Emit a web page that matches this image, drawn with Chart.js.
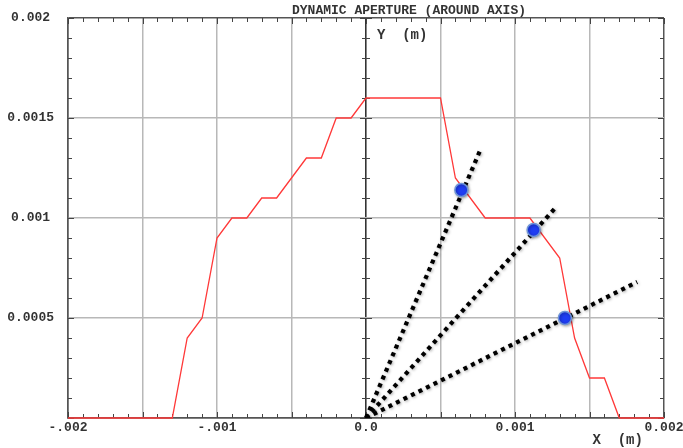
<!DOCTYPE html>
<html>
<head>
<meta charset="utf-8">
<script src="https://cdn.jsdelivr.net/npm/chart.js@4.4.1/dist/chart.umd.min.js"></script>
<style>
  html, body { margin: 0; padding: 0; background: #fff; }
  #wrap { width: 683px; height: 448px; }
</style>
</head>
<body>
<div id="wrap"><canvas id="myChart" width="683" height="448"></canvas></div>
<script>
// aperture boundary
let apertureX = [-0.002, -0.0013, -0.0012, -0.0011, -0.001, -0.0009, -0.0008, -0.0007, -0.0006, -0.0004, -0.0003, -0.0002, -0.0001, 0,
                 0.0005, 0.0006, 0.0008, 0.0011, 0.0013, 0.0014, 0.0015, 0.0016, 0.0017, 0.002];
let apertureY = [0, 0, 0.0004, 0.0005, 0.0009, 0.001, 0.001, 0.0011, 0.0011, 0.0013, 0.0013, 0.0015, 0.0015, 0.0016,
                 0.0016, 0.0012, 0.001, 0.001, 0.0008, 0.0004, 0.0002, 0.0002, 0, 0];

// dotted rays from the origin
let rayEndX = [0.00077, 0.00127, 0.00182];
let rayEndY = [0.001345, 0.00105, 0.00068];

// crossing points
let dotX = [0.00064, 0.001125, 0.001335];
let dotY = [0.00114, 0.00094, 0.0005];

// tick labels
let xTickValues = [-0.002, -0.001, 0, 0.001, 0.002];
let xTickLabels = ["-.002", "-.001", "0.0", "0.001", "0.002"];
let yTickValues = [0.0005, 0.001, 0.0015, 0.002];
let yTickLabels = ["0.0005", "0.001", "0.0015", "0.002"];

const MONO = "'Liberation Mono', 'DejaVu Sans Mono', monospace";

function near(a, b) { return Math.abs(a - b) < 1e-9; }
function isMajor(v) { return Math.abs(v / 0.0005 - Math.round(v / 0.0005)) < 1e-6; }
function findLabel(v, vals, labels) {
    for (let i = 0; i < vals.length; i++) {
        if (near(v, vals[i])) return labels[i];
    }
    return "";
}

function toPoints(xs, ys) {
    let pts = [];
    for (let i = 0; i < xs.length; i++) pts.push({x: xs[i], y: ys[i]});
    return pts;
}

let datasets = [];
datasets.push({
    data: toPoints(dotX, dotY),
    pointRadius: 6.5,
    pointBackgroundColor: "#1f3df2",
    pointBorderColor: "#6f95d8",
    pointBorderWidth: 1.5,
    showLine: false,
    order: 0,
    shadow: true
});
for (let i = 0; i < rayEndX.length; i++) {
    datasets.push({
        data: [{x: 0, y: 0}, {x: rayEndX[i], y: rayEndY[i]}],
        showLine: true,
        borderColor: "#000",
        borderWidth: 4.2,
        borderDash: [4, 4.4],
        borderCapStyle: "butt",
        pointRadius: 0,
        order: 1,
        shadow: true
    });
}
datasets.push({
    data: toPoints(apertureX, apertureY),
    showLine: true,
    borderColor: "#ff3838",
    borderWidth: 1.3,
    pointRadius: 0,
    clip: false,
    order: 2
});

// soft shadow on rays and dots
const shadowPlugin = {
    id: "shadow",
    beforeDatasetDraw(chart, args) {
        if (args.meta._dataset.shadow) {
            chart.ctx.save();
            chart.ctx.shadowColor = "rgba(0,0,0,0.35)";
            chart.ctx.shadowBlur = 3;
            chart.ctx.shadowOffsetX = 1;
            chart.ctx.shadowOffsetY = 1;
        }
    },
    afterDatasetDraw(chart, args) {
        if (args.meta._dataset.shadow) chart.ctx.restore();
    }
};

// inward tick marks on frame and on the x = 0 axis
const tickPlugin = {
    id: "innerTicks",
    beforeDatasetsDraw(chart) {
        const ctx = chart.ctx;
        const xs = chart.scales.x, ys = chart.scales.y;
        const a = chart.chartArea;
        const x0 = xs.getPixelForValue(0);
        ctx.save();
        ctx.strokeStyle = "#444";
        ctx.lineWidth = 1;
        ctx.beginPath();
        xs.ticks.forEach(t => {
            const px = Math.round(xs.getPixelForValue(t.value)) + 0.5;
            const len = isMajor(t.value) ? 6 : 4;
            ctx.moveTo(px, a.top); ctx.lineTo(px, a.top + len);
            ctx.moveTo(px, a.bottom); ctx.lineTo(px, a.bottom - len);
        });
        ys.ticks.forEach(t => {
            const py = Math.round(ys.getPixelForValue(t.value)) + 0.5;
            const len = isMajor(t.value) ? 6 : 4;
            ctx.moveTo(a.left, py); ctx.lineTo(a.left + len, py);
            ctx.moveTo(a.right, py); ctx.lineTo(a.right - len, py);
            ctx.moveTo(x0 - len, py); ctx.lineTo(x0 + len, py);
        });
        ctx.stroke();
        ctx.restore();
    }
};

// title and axis names
const textPlugin = {
    id: "texts",
    afterDraw(chart) {
        const ctx = chart.ctx;
        const xs = chart.scales.x;
        const a = chart.chartArea;
        const x0 = xs.getPixelForValue(0);
        ctx.save();
        ctx.fillStyle = "#333";
        ctx.textBaseline = "middle";
        ctx.font = "bold 13px " + MONO;
        ctx.textAlign = "center";
        ctx.fillText("DYNAMIC APERTURE (AROUND AXIS)", x0 + 43, a.top - 7);
        ctx.font = "bold 14px " + MONO;
        ctx.textAlign = "left";
        ctx.fillText("Y  (m)", x0 + 11, a.top + 17);
        ctx.fillText("X  (m)", xs.getPixelForValue(0.00152), a.bottom + 22);
        ctx.restore();
    }
};

const myChart = new Chart("myChart", {
    type: "scatter",
    data: { datasets: datasets },
    options: {
        responsive: false,
        animation: false,
        devicePixelRatio: 1,
        layout: { padding: { top: 18, right: 19, left: 0, bottom: 0 } },
        plugins: {
            legend: { display: false },
            tooltip: { enabled: false }
        },
        scales: {
            x: {
                type: "linear",
                min: -0.002,
                max: 0.002,
                afterFit: function(scale) {
                    scale.height = 30;
                    scale.paddingLeft = 0;
                    scale.paddingRight = 0;
                },
                ticks: {
                    stepSize: 0.0001,
                    maxTicksLimit: 100,
                    autoSkip: false,
                    maxRotation: 0,
                    padding: 2,
                    color: "#333",
                    font: { family: MONO, size: 13, weight: "bold" },
                    callback: function(v) { return findLabel(v, xTickValues, xTickLabels); }
                },
                grid: {
                    drawTicks: false,
                    color: function(c) {
                        const v = c.tick.value;
                        if (near(v, 0)) return "#333";
                        if (near(v, 0.002) || near(v, -0.002)) return "#555";
                        return isMajor(v) ? "#b8b8b8" : "rgba(0,0,0,0)";
                    },
                    lineWidth: function(c) {
                        const v = c.tick.value;
                        if (near(v, 0)) return 1.6;
                        return 1.5;
                    }
                },
                border: { color: "#555", width: 1.5 }
            },
            y: {
                type: "linear",
                min: 0,
                max: 0.002,
                afterFit: function(scale) {
                    scale.width = 68;
                    scale.paddingTop = 0;
                    scale.paddingBottom = 0;
                },
                ticks: {
                    stepSize: 0.0001,
                    maxTicksLimit: 100,
                    autoSkip: false,
                    crossAlign: "center",
                    padding: 14,
                    color: "#333",
                    font: { family: MONO, size: 13, weight: "bold" },
                    callback: function(v) { return findLabel(v, yTickValues, yTickLabels); }
                },
                grid: {
                    drawTicks: false,
                    color: function(c) {
                        const v = c.tick.value;
                        if (near(v, 0.002) || near(v, 0)) return "#555";
                        return isMajor(v) ? "#b8b8b8" : "rgba(0,0,0,0)";
                    },
                    lineWidth: 1.5
                },
                border: { color: "#555", width: 1.5 }
            }
        }
    },
    plugins: [shadowPlugin, tickPlugin, textPlugin]
});
</script>
</body>
</html>
